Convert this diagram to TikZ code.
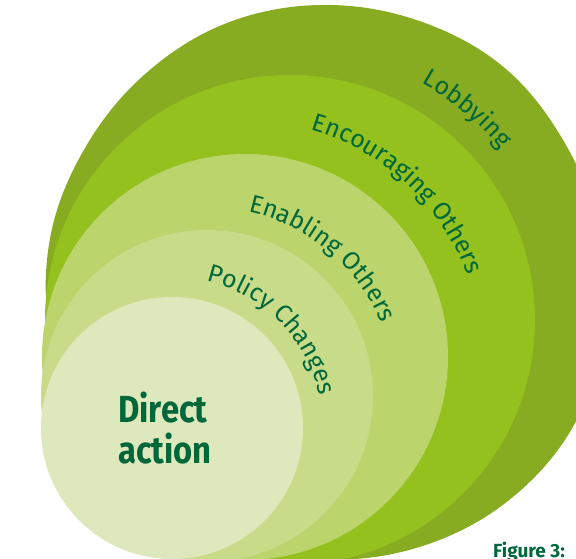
\documentclass[tikz,border=0pt]{standalone}
\usepackage{fontspec}
\setmainfont{Fira Sans}
\newfontfamily\figfont{Fira Sans}
\newfontfamily\dirfont[FakeStretch=0.87]{Fira Sans}
\usetikzlibrary{decorations.text}
\definecolor{lobcol}{RGB}{135,171,33}
\definecolor{enccol}{RGB}{149,193,31}
\definecolor{enacol}{RGB}{187,212,108}
\definecolor{polcol}{RGB}{200,219,136}
\definecolor{dircol}{RGB}{222,232,189}
\definecolor{txtgreen}{RGB}{0,103,58}
\newcommand{\ringfont}{\figfont\fontsize{25}{30}\selectfont}
\begin{document}
\begin{tikzpicture}[x=1pt,y=1pt,
  ringlabel/.style={decorate,decoration={text along path,text align=center,text color=txtgreen,text={|\ringfont|#1}}},
  centretext/.style={anchor=base west,inner sep=0pt,text=txtgreen,font=\dirfont\bfseries\fontsize{37.7}{40}\selectfont}]
\useasboundingbox (0,0) rectangle (576,558);
\clip (0,0) rectangle (576,558);
\coordinate (c2) at (290,238);
\coordinate (c3) at (245,201);
\coordinate (c4) at (207,162);
\coordinate (c5) at (172,130);
% outer ring
\fill[lobcol] plot[smooth cycle,tension=0.62] coordinates {(320,553) (416.4,538.0) (503.2,491.3) (565.1,414.5) (600.7,322.5) (603.6,223.0) (571.1,128) (503.9,53.9) (415.8,9.9) (320,-1) (228.3,21.2) (147.7,67.7) (86.2,138) (50.2,225.4) (50.2,320.6) (84.4,409) (143.9,482.9) (224.9,534.2)};
\fill[enccol] (c2) circle[radius=245];
\fill[enacol] (c3) circle[radius=203];
\fill[polcol] (c4) circle[radius=166];
\fill[dircol] (c5) circle[radius=131];
% ring labels
\path[ringlabel=Lobbying] (c2) ++(100:271) arc[start angle=100,end angle=0,radius=271];
\path[ringlabel=Encouraging Others] (c3) ++(97:237) arc[start angle=97,end angle=-3,radius=237];
\path[ringlabel=Enabling Others] (c4) ++(100:189) arc[start angle=100,end angle=0,radius=189];
\path[ringlabel=Policy Changes] (c5) ++(94.5:151) arc[start angle=94.5,end angle=-5.5,radius=151];
% centre text
\node[centretext] (direct) at (118,136) {Direct};
\node[centretext] (action) at (118,95) {action};
\node[anchor=base west,inner sep=0pt,text=txtgreen,font=\figfont\bfseries\fontsize{19}{22}\selectfont] (fig) at (493,1) {Figure 3:};
\end{tikzpicture}
\end{document}
